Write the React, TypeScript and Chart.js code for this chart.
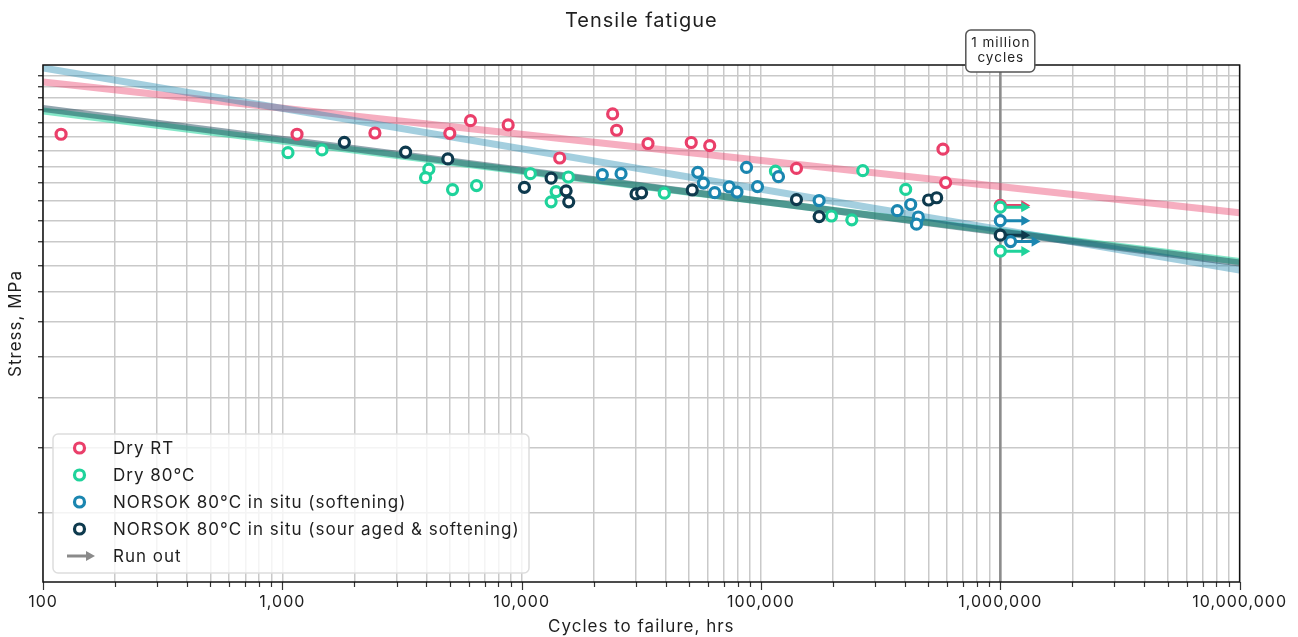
import React, { useEffect, useRef } from 'react';
import { Chart, registerables } from 'chart.js';

Chart.register(...registerables);

const FONT_FAMILY = 'Inter, "Noto Sans", sans-serif';
const TEXT_COLOR = '#1f1f1f';
const LETTER_SPACING = '1px';

// ---- axes ----
const xMin = 100;
const xMax = 10000000;
const yMin = 22;
const yMax = 220;
const xDecades = [100, 1000, 10000, 100000, 1000000, 10000000];
const xMinorSteps = [2, 3, 4, 5, 6, 7, 8, 9];
const yTicks = [30, 40, 50, 60, 70, 80, 90, 100, 110, 120, 130, 140, 150, 160, 170, 180, 190, 200, 210];
const millionMark = 1000000;

// ---- series: Dry RT ----
const dryRtX = [119, 1152, 2437, 5010, 6114, 8784, 14421, 24000, 24940, 33730, 51120, 61070, 140700, 576000, 591000];
const dryRtY = [161.6, 161.6, 162.5, 162.3, 171.7, 168.5, 145.4, 176.9, 164.5, 155.1, 155.8, 153.6, 138.8, 151.2, 130.3];
const dryRtRunX = [1000000];
const dryRtRunY = [117.7];
const dryRtFit = [204.0, 113.9];

// ---- series: Dry 80°C ----
const dry80X = [1056, 1464, 4096, 3967, 5143, 6478, 10879, 15680, 13930, 13280, 39450, 114960, 266300, 197000, 239600, 402400];
const dry80Y = [148.9, 150.7, 138.4, 133.2, 126.3, 128.6, 135.6, 133.6, 125.2, 119.6, 124.3, 137.1, 137.4, 112.3, 110.4, 126.4];
const dry80RunX = [1000000, 1000000];
const dry80RunY = [116.8, 96.0];
const dry80Fit = [179.3, 91.7];

// ---- series: NORSOK 80°C in situ (softening) ----
const softX = [21740, 26020, 54420, 57480, 64110, 73680, 79390, 87000, 96700, 118350, 175000, 371200, 422300, 454300, 446500];
const softY = [135.0, 135.6, 136.4, 130.0, 124.6, 127.8, 124.9, 139.4, 128.0, 133.8, 120.3, 115.0, 118.2, 111.8, 108.3];
const softRunX = [1000000, 1104000];
const softRunY = [110.0, 100.2];
const softFit = [217.1, 88.3];

// ---- series: NORSOK 80°C in situ (sour aged & softening) ----
const sourX = [1816, 3273, 4915, 10270, 13280, 15340, 15730, 30060, 31720, 51620, 140700, 175000, 501500, 542100];
const sourY = [155.9, 149.3, 144.8, 127.6, 132.9, 125.6, 119.6, 123.9, 124.5, 126.1, 120.8, 112.0, 120.6, 121.8];
const sourRunX = [1000000];
const sourRunY = [103.1];
const sourFit = [181.3, 91.1];

const fitX = [100, 10000000];
const runoutArrowFactor = 1.26;

const legendLabels = [
  'Dry RT',
  'Dry 80°C',
  'NORSOK 80°C in situ (softening)',
  'NORSOK 80°C in situ (sour aged & softening)',
  'Run out',
];

const RED = '#ea3f6a';
const GREEN = '#1fd39b';
const BLUE = '#1b86b0';
const DARK = '#0e3a4e';
const GREY_ARROW = '#8a8a8a';

const series = [
  { label: legendLabels[0], color: RED, fitColor: 'rgba(234,63,106,0.42)', x: dryRtX, y: dryRtY, runX: dryRtRunX, runY: dryRtRunY, fit: dryRtFit, order: 4 },
  { label: legendLabels[1], color: GREEN, fitColor: 'rgba(31,211,155,0.55)', x: dry80X, y: dry80Y, runX: dry80RunX, runY: dry80RunY, fit: dry80Fit, order: 3 },
  { label: legendLabels[2], color: BLUE, fitColor: 'rgba(27,134,176,0.4)', x: softX, y: softY, runX: softRunX, runY: softRunY, fit: softFit, order: 2 },
  { label: legendLabels[3], color: DARK, fitColor: 'rgba(14,58,78,0.45)', x: sourX, y: sourY, runX: sourRunX, runY: sourRunY, fit: sourFit, order: 1 },
];

function font(size: number) {
  return `${size}px ${FONT_FAMILY}`;
}

function drawArrow(ctx: CanvasRenderingContext2D, x0: number, x1: number, y: number, color: string) {
  ctx.save();
  ctx.strokeStyle = color;
  ctx.fillStyle = color;
  ctx.lineWidth = 3;
  ctx.beginPath();
  ctx.moveTo(x0, y);
  ctx.lineTo(x1 - 6, y);
  ctx.stroke();
  ctx.beginPath();
  ctx.moveTo(x1, y);
  ctx.lineTo(x1 - 9, y - 5);
  ctx.lineTo(x1 - 9, y + 5);
  ctx.closePath();
  ctx.fill();
  ctx.restore();
}

const overlayPlugin = {
  id: 'overlay',
  beforeUpdate(chart: any) {
    (chart.ctx as any).letterSpacing = LETTER_SPACING;
  },
  beforeDraw(chart: any) {
    (chart.ctx as any).letterSpacing = LETTER_SPACING;
  },
  beforeDatasetsDraw(chart: any) {
    const { ctx, chartArea, scales } = chart;
    const x = scales.x.getPixelForValue(millionMark);
    ctx.save();
    ctx.strokeStyle = '#8c8c8c';
    ctx.lineWidth = 2.5;
    ctx.beginPath();
    ctx.moveTo(x, chartArea.top);
    ctx.lineTo(x, chartArea.bottom);
    ctx.stroke();
    ctx.restore();
  },
  afterDraw(chart: any) {
    const { ctx, chartArea, scales } = chart;
    const { left, right, top, bottom } = chartArea;
    ctx.save();
    ctx.letterSpacing = LETTER_SPACING;
    // x tick marks
    ctx.strokeStyle = '#333';
    ctx.lineWidth = 1.2;
    scales.x.ticks.forEach((t: any) => {
      const px = Math.round(scales.x.getPixelForValue(t.value)) + 0.5;
      const len = xDecades.includes(t.value) ? 8 : 5;
      ctx.beginPath();
      ctx.moveTo(px, bottom);
      ctx.lineTo(px, bottom + len);
      ctx.stroke();
    });
    // frame
    ctx.strokeStyle = '#111';
    ctx.lineWidth = 1.5;
    ctx.strokeRect(left, top, right - left, bottom - top);

    // 1 million cycles label
    const mx = scales.x.getPixelForValue(millionMark);
    const bw = 69;
    const bh = 42;
    const by = top - 35;
    ctx.beginPath();
    ctx.roundRect(mx - bw / 2, by, bw, bh, 5);
    ctx.fillStyle = '#fff';
    ctx.fill();
    ctx.strokeStyle = '#555';
    ctx.lineWidth = 1.5;
    ctx.stroke();
    ctx.fillStyle = TEXT_COLOR;
    ctx.font = font(13.5);
    ctx.textAlign = 'center';
    ctx.textBaseline = 'middle';
    ctx.fillText('1 million', mx + 0.5, by + 13);
    ctx.fillText('cycles', mx + 0.5, by + 28);

    // legend
    const lx = left + 10;
    const ly = bottom - 148;
    const lw = 476;
    const lh = 139;
    ctx.beginPath();
    ctx.roundRect(lx, ly, lw, lh, 5);
    ctx.fillStyle = 'rgba(255,255,255,0.8)';
    ctx.fill();
    ctx.strokeStyle = '#dddddd';
    ctx.lineWidth = 1.5;
    ctx.stroke();
    ctx.font = font(17);
    ctx.textAlign = 'left';
    ctx.textBaseline = 'middle';
    legendLabels.forEach((lab, i) => {
      const yy = ly + 14 + i * 27;
      if (i < series.length) {
        ctx.beginPath();
        ctx.arc(lx + 26.5, yy, 5, 0, Math.PI * 2);
        ctx.fillStyle = '#fff';
        ctx.fill();
        ctx.strokeStyle = series[i].color;
        ctx.lineWidth = 3.2;
        ctx.stroke();
      } else {
        drawArrow(ctx, lx + 14, lx + 42, yy, GREY_ARROW);
      }
      ctx.fillStyle = TEXT_COLOR;
      ctx.fillText(lab, lx + 60, yy + 1);
    });
    ctx.restore();
  },
};

export default function App() {
  const canvasRef = useRef<HTMLCanvasElement | null>(null);

  useEffect(() => {
    if (!canvasRef.current) return;
    const datasets: any[] = [];

    series.forEach((s) => {
      datasets.push({
        label: s.label,
        type: 'scatter',
        data: s.x.map((v, i) => ({ x: v, y: s.y[i] })).concat(s.runX.map((v, i) => ({ x: v, y: s.runY[i] }))),
        pointStyle: 'circle',
        pointRadius: 5,
        pointBorderWidth: 3.2,
        pointBackgroundColor: '#ffffff',
        pointBorderColor: s.color,
        order: s.order,
      });
      s.runX.forEach((v, i) => {
        datasets.push({
          label: s.label + ' run out',
          type: 'line',
          data: [
            { x: v, y: s.runY[i] },
            { x: v * runoutArrowFactor, y: s.runY[i] },
          ],
          borderColor: s.color,
          borderWidth: 3,
          pointRadius: [0, 6],
          pointStyle: 'triangle',
          rotation: 90,
          pointBorderWidth: 0,
          pointBackgroundColor: s.color,
          order: 5 + s.order,
        });
      });
      datasets.push({
        label: s.label + ' fit',
        type: 'line',
        data: fitX.map((v, i) => ({ x: v, y: s.fit[i] })),
        borderColor: s.fitColor,
        borderWidth: 7,
        pointRadius: 0,
        borderCapStyle: 'butt',
        order: 20 + s.order,
      });
    });

    const xTickValues: number[] = [];
    xDecades.forEach((d, i) => {
      xTickValues.push(d);
      if (i < xDecades.length - 1) xMinorSteps.forEach((m) => xTickValues.push(d * m));
    });

    const gridColor = '#c9c9c9';

    const chart = new Chart(canvasRef.current, {
      type: 'scatter',
      data: { datasets },
      options: {
        animation: false,
        responsive: true,
        maintainAspectRatio: false,
        events: [],
        layout: { padding: { top: 0, right: 57, bottom: 0, left: 0 } },
        plugins: {
          legend: { display: false },
          tooltip: { enabled: false },
          title: {
            display: true,
            text: 'Tensile fatigue',
            fullSize: false,
            color: TEXT_COLOR,
            font: { family: FONT_FAMILY, size: 20, weight: 'normal', lineHeight: 1.2 },
            padding: { top: 9, bottom: 32 },
          },
        },
        scales: {
          x: {
            type: 'logarithmic',
            position: 'bottom',
            min: xMin,
            max: xMax,
            afterBuildTicks: (scale: any) => {
              scale.ticks = xTickValues.map((v) => ({ value: v }));
            },
            afterFit: (scale: any) => {
              scale.height = 55;
            },
            grid: { color: gridColor, lineWidth: 1.5, drawTicks: false },
            border: { display: false },
            ticks: {
              autoSkip: false,
              maxRotation: 0,
              padding: 11,
              color: TEXT_COLOR,
              font: { family: FONT_FAMILY, size: 16 },
              callback: (value: any) => (xDecades.includes(Number(value)) ? Number(value).toLocaleString('en-US') : ''),
            },
            title: {
              display: true,
              text: 'Cycles to failure, hrs',
              color: TEXT_COLOR,
              font: { family: FONT_FAMILY, size: 17 },
              padding: { top: 0, bottom: 0 },
            },
          },
          y: {
            type: 'logarithmic',
            min: yMin,
            max: yMax,
            afterBuildTicks: (scale: any) => {
              scale.ticks = yTicks.map((v) => ({ value: v }));
            },
            afterFit: (scale: any) => {
              scale.width = 43;
            },
            grid: { color: gridColor, lineWidth: 1.5, tickLength: 5, tickColor: '#222', tickWidth: 1.2 },
            border: { display: false },
            ticks: { display: false },
            title: {
              display: true,
              text: 'Stress, MPa',
              color: TEXT_COLOR,
              font: { family: FONT_FAMILY, size: 17 },
              padding: { top: 6, bottom: 0 },
            },
          },
        },
      },
      plugins: [overlayPlugin],
    } as any);

    return () => chart.destroy();
  }, []);

  return (
    <div style={{ position: 'fixed', left: 0, top: 0, width: 1298, height: 637, background: '#fff' }}>
      <canvas ref={canvasRef} />
    </div>
  );
}
